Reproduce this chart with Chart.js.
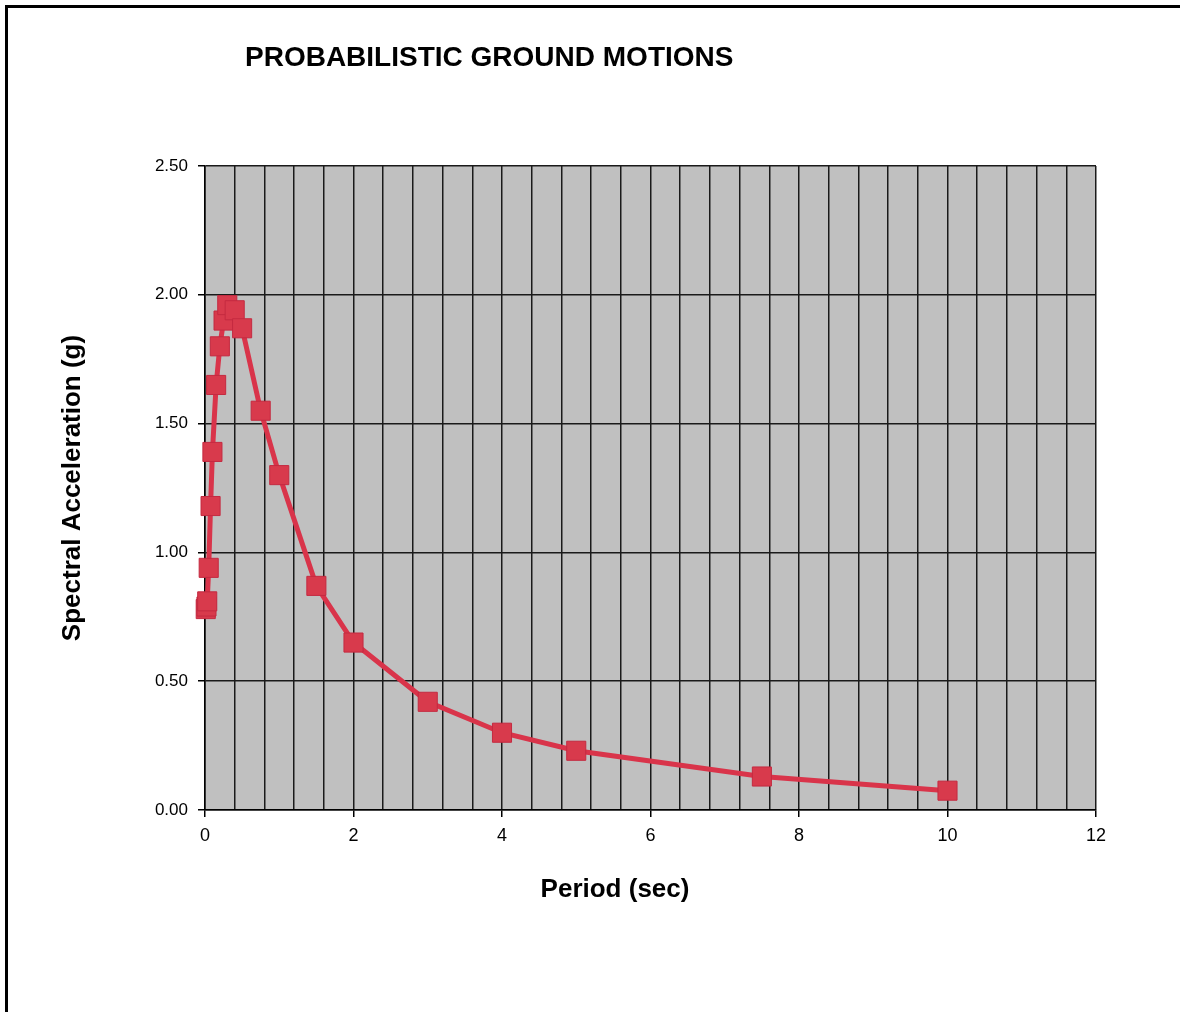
<!DOCTYPE html>
<html>
<head>
<meta charset="utf-8">
<script src="https://cdn.jsdelivr.net/npm/chart.js@4/dist/chart.umd.min.js"></script>
<style>
  html, body { margin: 0; padding: 0; background: #ffffff; }
  #wrap { position: absolute; left: 0; top: 0; width: 1180px; height: 1012px; }
  #frame { position: absolute; left: 5px; top: 5px; width: 1175px; height: 1007px;
           border-left: 3px solid #000; border-top: 3px solid #000; box-sizing: border-box; pointer-events: none; }
  canvas { position: absolute; left: 0; top: 0; }
</style>
</head>
<body>
<div id="wrap">
  <canvas id="c" width="1180" height="1012"></canvas>
  <div id="frame"></div>
</div>
<script>
const chartTitle = "PROBABILISTIC GROUND MOTIONS";
const xAxisTitle = "Period (sec)";
const yAxisTitle = "Spectral Acceleration (g)";
const periods = [0.01, 0.02, 0.03, 0.05, 0.075, 0.1, 0.15, 0.2, 0.25, 0.3, 0.4, 0.5, 0.75, 1.0, 1.5, 2.0, 3.0, 4.0, 5.0, 7.5, 10.0];
const spectralAcc = [0.78, 0.79, 0.81, 0.94, 1.18, 1.39, 1.65, 1.80, 1.90, 1.96, 1.94, 1.87, 1.55, 1.30, 0.87, 0.65, 0.42, 0.30, 0.23, 0.13, 0.075];
const xMin = 0, xMax = 12, xGridStep = 0.4, xLabelStep = 2;
const yMin = 0, yMax = 2.5, yStep = 0.5;

const points = periods.map((p, i) => ({ x: p, y: spectralAcc[i] }));

const isMajor = v => Math.abs(v / xLabelStep - Math.round(v / xLabelStep)) < 1e-6;
const FONT = '"Liberation Sans", Arial, sans-serif';

const bgPlugin = {
  id: 'bg',
  beforeDraw(chart) {
    const { ctx, chartArea: a } = chart;
    ctx.save();
    ctx.fillStyle = '#c0c0c0';
    ctx.fillRect(a.left, a.top, a.right - a.left, a.bottom - a.top);
    ctx.restore();
  },
  afterDraw(chart) {
    const { ctx } = chart;
    ctx.save();
    ctx.fillStyle = '#000';
    ctx.textBaseline = 'middle';
    ctx.textAlign = 'left';
    ctx.font = 'bold 28px ' + FONT;
    ctx.fillText(chartTitle, 245, 58);
    ctx.textAlign = 'center';
    ctx.font = 'bold 26px ' + FONT;
    ctx.fillText(xAxisTitle, 615, 890);
    ctx.restore();
  }
};

new Chart(document.getElementById('c'), {
  type: 'scatter',
  data: {
    datasets: [{
      data: points,
      showLine: true,
      clip: false,
      borderColor: '#d9344a',
      borderWidth: 5,
      backgroundColor: '#d9344a',
      pointStyle: 'rect',
      pointRadius: 13.5,
      pointBorderColor: '#c42a40',
      pointBorderWidth: 1,
      pointBackgroundColor: '#d83a4c',
      tension: 0
    }]
  },
  options: {
    responsive: false,
    animation: false,
    devicePixelRatio: 1,
    layout: { padding: { left: 0, top: 166, right: 84, bottom: 92 } },
    plugins: { legend: { display: false }, tooltip: { enabled: false }, title: { display: false } },
    scales: {
      x: {
        type: 'linear',
        min: xMin, max: xMax,
        afterFit: s => { s.height = 110; },
        ticks: {
          stepSize: xGridStep,
          autoSkip: false,
          maxRotation: 0,
          padding: 8,
          color: '#000',
          font: { family: FONT, size: 18 },
          callback: v => isMajor(v) ? String(Math.round(v)) : ''
        },
        grid: {
          color: '#1a1a1a',
          lineWidth: 1.5,
          tickLength: 7,
          tickColor: ctx => (ctx.tick && isMajor(ctx.tick.value)) ? '#000' : 'rgba(0,0,0,0)'
        },
        border: { color: '#000', width: 1.5 },
        title: { display: false }
      },
      y: {
        min: yMin, max: yMax,
        afterFit: s => { s.width = 205; },
        ticks: {
          stepSize: yStep,
          padding: 10,
          color: '#000',
          font: { family: FONT, size: 17 },
          callback: v => Number(v).toFixed(2)
        },
        grid: { color: '#1a1a1a', lineWidth: 1.5, tickLength: 7, tickColor: '#000' },
        border: { color: '#000', width: 1.5 },
        title: {
          display: true,
          text: yAxisTitle,
          color: '#000',
          font: { family: FONT, size: 26, weight: 'bold' },
          padding: { top: 57, bottom: 0 }
        }
      }
    }
  },
  plugins: [bgPlugin]
});
</script>
</body>
</html>
